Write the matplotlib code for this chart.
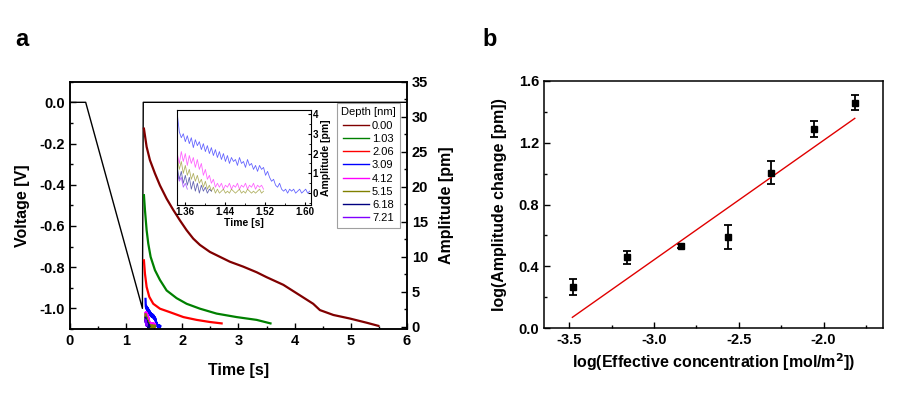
import numpy as np
import matplotlib
matplotlib.use("Agg")
import matplotlib.pyplot as plt
from matplotlib.ticker import MultipleLocator

plt.rcParams["font.family"] = ["Liberation Sans", "DejaVu Sans"]
plt.rcParams["axes.unicode_minus"] = False

# ---------------------------------------------------------------------------
# Panel a data
# ---------------------------------------------------------------------------

# applied voltage ramp
volt_t = [0.0, 0.28, 1.29, 1.305, 6.0]
volt_v = [0.0, 0.0, -1.00, 0.0, 0.0]

depths = ["0.00", "1.03", "2.06", "3.09", "4.12", "5.15", "6.18", "7.21"]
depth_colors = ["#800000", "#008000", "#ff0000", "#0000ff",
                "#ff00ff", "#808000", "#000080", "#8000ff"]

# long decays
t_000 = [1.317, 1.365, 1.424, 1.513, 1.602, 1.721, 1.839, 1.958, 2.077, 2.195,
         2.314, 2.492, 2.670, 2.848, 3.085, 3.324, 3.50, 3.80, 4.095, 4.33,
         4.45, 4.69, 4.98, 5.28, 5.49]
a_000 = [28.3, 25.7, 23.8, 21.9, 20.2, 18.3, 16.7, 15.2, 13.8, 12.6,
         11.7, 10.7, 10.0, 9.3, 8.6, 7.8, 7.1, 6.0, 4.5, 3.3,
         2.4, 1.7, 1.2, 0.6, 0.15]
t_103 = [1.317, 1.335, 1.365, 1.394, 1.436, 1.513, 1.602, 1.721, 1.899, 2.077,
         2.314, 2.61, 2.968, 3.324, 3.57]
a_103 = [18.8, 16.7, 13.8, 11.9, 10.0, 8.1, 6.7, 5.2, 4.1, 3.3,
         2.6, 1.9, 1.4, 1.0, 0.5]
t_206 = [1.317, 1.335, 1.365, 1.412, 1.483, 1.602, 1.78, 2.02, 2.255, 2.49, 2.70]
a_206 = [9.5, 7.6, 5.7, 4.3, 3.3, 2.6, 2.1, 1.4, 1.0, 0.7, 0.5]

t0 = 1.345
dt = 0.004
a_309 = [4.0, 3.1, 2.8, 3.0, 2.6, 2.9, 2.5, 2.8, 2.3, 2.7,
         2.4, 2.6, 2.2, 2.5, 2.1, 2.4, 2.0, 2.3, 1.9, 2.2,
         1.8, 2.1, 1.7, 2.0, 1.6, 1.9, 1.5, 1.8, 1.6, 1.7,
         1.4, 1.8, 1.5, 1.6, 1.3, 1.7, 1.4, 1.5, 1.2, 1.4,
         1.1, 1.4, 1.2, 1.3, 0.9, 1.1, 0.8, 0.6, 0.7, 0.4,
         0.3, 0.5, 0.2, 0.1, 0.2, 0.0, 0.2, 0.1, 0.2, 0.0,
         0.1, 0.2, 0.0, 0.1, 0.2, 0.0, 0.1]
a_412 = [2.0, 1.5, 2.1, 1.6, 2.0, 1.4, 1.9, 1.5, 1.8, 1.3,
         1.7, 1.2, 1.5, 0.9, 1.2, 0.7, 0.9, 0.5, 0.7, 0.3,
         0.5, 0.3, 0.5, 0.2, 0.4, 0.3, 0.5, 0.2, 0.4, 0.3,
         0.5, 0.2, 0.4, 0.3, 0.5, 0.2, 0.4, 0.3, 0.5, 0.2,
         0.4, 0.3, 0.4, 0.2]
a_515 = [1.8, 1.2, 1.6, 1.0, 1.4, 0.9, 1.2, 0.7, 1.0, 0.6,
         0.9, 0.5, 0.7, 0.3, 0.6, 0.2, 0.4, 0.1, 0.3, 0.0,
         0.2, 0.0, 0.1, 0.2, 0.0, 0.1, 0.0, 0.2, 0.1, 0.0,
         0.1, 0.2, 0.0, 0.1, 0.0, 0.2, 0.1, 0.0, 0.1, 0.0,
         0.1, 0.2, 0.0, 0.1]
a_618 = [1.3, 0.7, 1.1, 0.5, 0.9, 0.4, 0.8, 0.2, 0.6, 0.1,
         0.5, 0.0, 0.4, 0.1, 0.3, 0.0, 0.2, 0.1]
a_721 = [1.0, 0.6, 0.8, 0.3, 0.5, 0.2]

# ---------------------------------------------------------------------------
# Panel b data
# ---------------------------------------------------------------------------

log_conc = [-3.476, -3.159, -2.843, -2.565, -2.308, -2.059, -1.816]
log_amp = [0.269, 0.459, 0.534, 0.592, 1.006, 1.286, 1.458]
log_amp_err = [0.052, 0.043, 0.013, 0.078, 0.076, 0.052, 0.050]
fit_slope = 0.772
fit_intercept = 2.759
fit_range = [-3.482, -1.816]


def sampled(vals):
    t = t0 + dt * np.arange(len(vals))
    return t, np.array(vals)


short = [sampled(a) for a in (a_309, a_412, a_515, a_618, a_721)]
traces = [(np.array(t_000), np.array(a_000)),
          (np.array(t_103), np.array(a_103)),
          (np.array(t_206), np.array(a_206))] + short

fig = plt.figure(figsize=(9.05, 3.96), dpi=100)

tick_kw = dict(direction="in", labelsize=10.5, width=1.0)
lab_kw = dict(fontsize=11.5, fontweight="bold")


def boldticks(ax):
    for lbl in ax.get_xticklabels() + ax.get_yticklabels():
        lbl.set_fontweight("bold")


# ---- panel a --------------------------------------------------------------
ax = fig.add_axes([0.0773, 0.1692, 0.3724, 0.6245])
ax.plot(volt_t, volt_v, color="black", lw=1.0)
ax.set_xlim(0, 6)
ax.set_ylim(-1.1, 0.1)
ax.xaxis.set_major_locator(MultipleLocator(1))
ax.xaxis.set_minor_locator(MultipleLocator(0.5))
ax.yaxis.set_minor_locator(MultipleLocator(0.1))
ax.set_yticks([0.0, -0.2, -0.4, -0.6, -0.8, -1.0])
ax.set_yticklabels(["0.0", "-0.2", "-0.4", "-0.6", "-0.8", "-1.0"])
ax.tick_params(which="both", right=False, top=False, **tick_kw)
ax.tick_params(which="major", length=4)
ax.tick_params(which="minor", length=2.5)
ax.set_xlabel("Time [s]", labelpad=11, **lab_kw)
ax.set_ylabel("Voltage [V]", labelpad=7, **lab_kw)
boldticks(ax)

ax2 = ax.twinx()
for (t, a), lbl, col in zip(traces, depths, depth_colors):
    ax2.plot(t, a, color=col, lw=1.6, label=lbl)
ax2.set_ylim(-0.3, 35)
ax2.yaxis.set_major_locator(MultipleLocator(5))
ax2.yaxis.set_minor_locator(MultipleLocator(2.5))
ax2.tick_params(which="both", **tick_kw)
ax2.tick_params(which="major", length=4)
ax2.tick_params(which="minor", length=2.5)
ax2.set_ylabel("Amplitude [pm]", labelpad=8, **lab_kw)
boldticks(ax2)
for sp in list(ax.spines.values()) + list(ax2.spines.values()):
    sp.set_linewidth(1.1)

leg = ax2.legend(loc="upper right", bbox_to_anchor=(0.98, 0.914),
                 fontsize=8, title="Depth [nm]", title_fontsize=8,
                 handlelength=2.3, labelspacing=0.29, borderpad=0.4,
                 handletextpad=0.3, borderaxespad=0.0, frameon=True,
                 fancybox=False)
leg.get_frame().set_edgecolor("#888888")
leg.get_frame().set_linewidth(0.8)
for line in leg.get_lines():
    line.set_linewidth(1.0)

# inset
axi = fig.add_axes([0.1959, 0.4823, 0.1474, 0.2399])
axi.set_facecolor("white")
for (t, a), col in zip(short, depth_colors[3:]):
    axi.plot(t, a, color=col, lw=0.6, alpha=0.6)
axi.set_xlim(1.345, 1.611)
axi.set_ylim(-0.6, 4.2)
axi.set_xticks([1.36, 1.44, 1.52, 1.60])
axi.set_xticklabels(["1.36", "1.44", "1.52", "1.60"])
axi.xaxis.set_minor_locator(MultipleLocator(0.04))
axi.yaxis.set_major_locator(MultipleLocator(1))
axi.yaxis.set_minor_locator(MultipleLocator(0.5))
axi.yaxis.tick_right()
axi.yaxis.set_label_position("right")
axi.tick_params(which="both", direction="in", labelsize=7, pad=1.5,
                left=False, right=True, top=False)
axi.tick_params(which="major", length=2.5)
axi.tick_params(which="minor", length=1.5)
axi.set_xlabel("Time [s]", fontsize=7.5, fontweight="bold", labelpad=1)
axi.set_ylabel("Amplitude [pm]", fontsize=7.5, fontweight="bold", labelpad=2)
boldticks(axi)
for sp in axi.spines.values():
    sp.set_linewidth(0.8)

# ---- panel b --------------------------------------------------------------
bx = fig.add_axes([0.601, 0.171, 0.3746, 0.625])
bx.errorbar(log_conc, log_amp, yerr=log_amp_err, fmt="s", color="black",
            ms=4, capsize=3, elinewidth=1.3, capthick=1.3)
fx = np.array(fit_range)
bx.plot(fx, fit_slope * fx + fit_intercept, color="#e00000", lw=1.0)
bx.set_xlim(-3.65, -1.65)
bx.set_ylim(0, 1.6)
bx.xaxis.set_major_locator(MultipleLocator(0.5))
bx.xaxis.set_minor_locator(MultipleLocator(0.25))
bx.yaxis.set_major_locator(MultipleLocator(0.4))
bx.yaxis.set_minor_locator(MultipleLocator(0.2))
bx.tick_params(which="both", right=False, top=False, **tick_kw)
bx.tick_params(which="major", length=4)
bx.tick_params(which="minor", length=2.5)
bx.set_xlabel("log(Effective concentration [mol/m$^\\mathbf{2}$])", labelpad=3, **lab_kw)
bx.set_ylabel("log(Amplitude change [pm])", labelpad=8, **lab_kw)
boldticks(bx)
for sp in bx.spines.values():
    sp.set_linewidth(1.1)

fig.text(0.024, 0.899, "a", fontsize=17, fontweight="bold", ha="center", va="center")
fig.text(0.541, 0.899, "b", fontsize=17, fontweight="bold", ha="center", va="center")

fig.savefig("out.png", dpi=100)
